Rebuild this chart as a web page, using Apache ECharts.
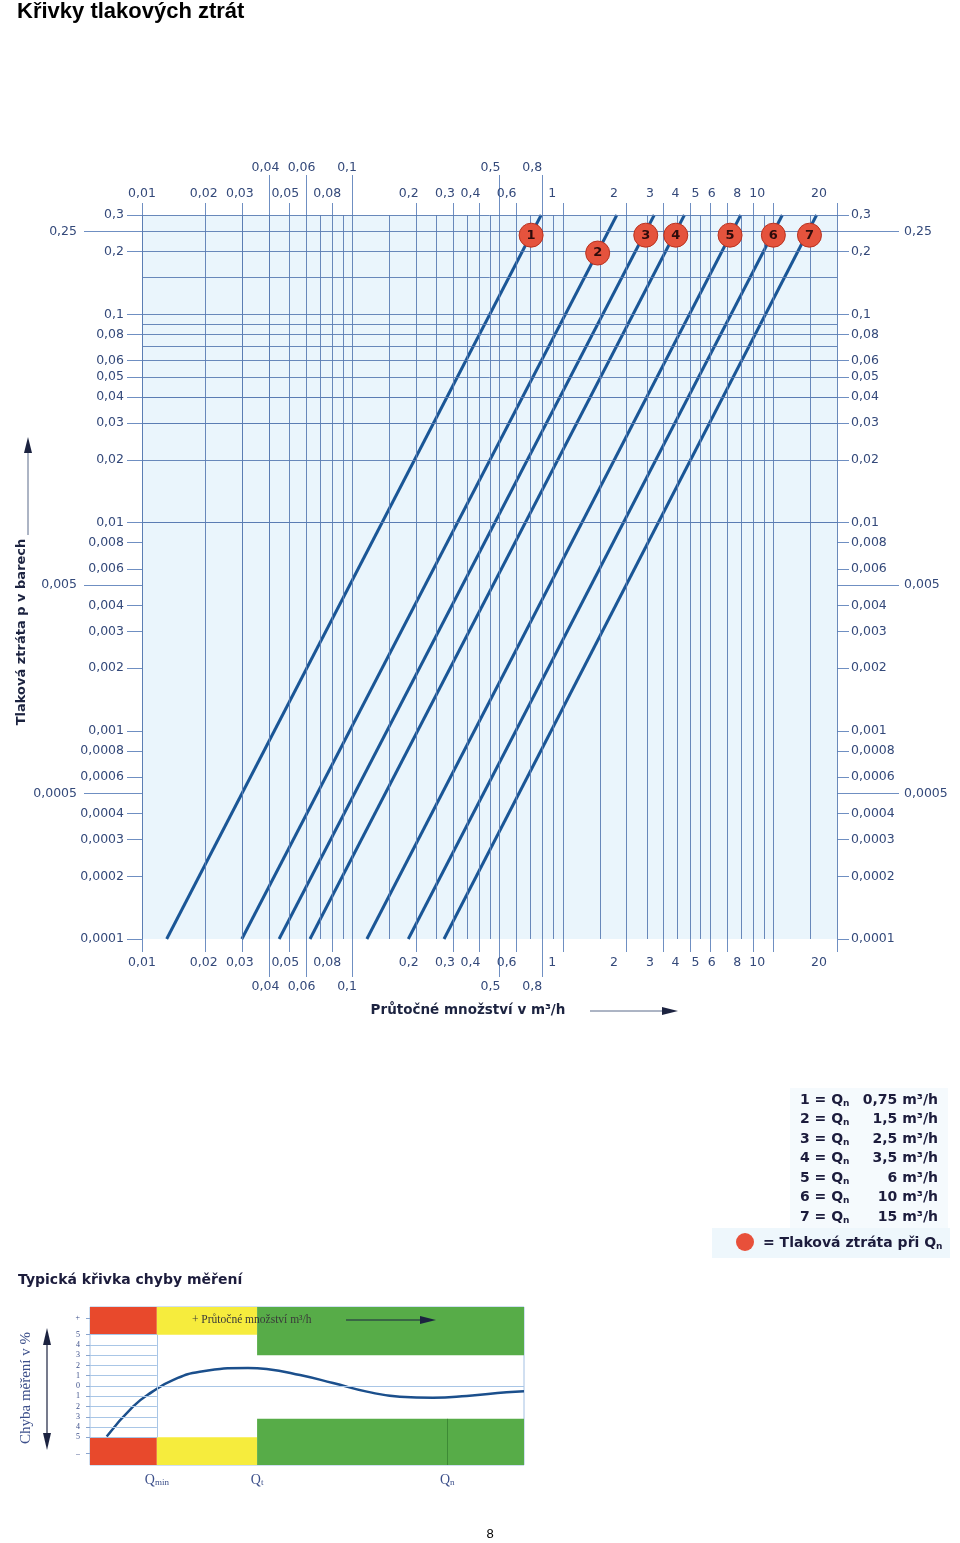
<!DOCTYPE html>
<html>
<head>
<meta charset="utf-8">
<script src="https://cdn.jsdelivr.net/npm/echarts@6/dist/echarts.min.js"></script>
<style>
html,body{margin:0;padding:0;background:#fff}
#main{width:960px;height:1543px}
</style>
</head>
<body>
<div id="main"></div>
<script>
// mřížka hlavního grafu (průtok Q v m3/h, tlaková ztráta p v barech)
var gridQ = [0.01,0.015,0.02,0.025,0.03,0.035,0.04,0.045,0.05,0.06,0.07,0.08,0.09,
             0.1,0.15,0.2,0.25,0.3,0.35,0.4,0.45,0.5,0.6,0.7,0.8,0.9,
             1,1.5,2,2.5,3,3.5,4,4.5,5,6,7,8,9,10,15,20];
var gridP = [0.0001,0.00015,0.0002,0.00025,0.0003,0.00035,0.0004,0.00045,0.0005,0.0006,0.0007,0.0008,0.0009,
             0.001,0.0015,0.002,0.0025,0.003,0.0035,0.004,0.0045,0.005,0.006,0.007,0.008,0.009,
             0.01,0.015,0.02,0.025,0.03,0.035,0.04,0.045,0.05,0.06,0.07,0.08,0.09,
             0.1,0.15,0.2,0.25,0.3];
// popisky os
var qNear = [0.01,0.02,0.03,0.05,0.08,0.2,0.3,0.4,0.6,1,2,3,4,5,6,8,10,20];
var qFar = [0.04,0.06,0.1,0.5,0.8];
var pNear = [0.0001,0.0002,0.0003,0.0004,0.0006,0.0008,0.001,0.002,0.003,0.004,0.006,0.008,
             0.01,0.02,0.03,0.04,0.05,0.06,0.08,0.1,0.2,0.3];
var pFar = [0.0005,0.005,0.25];
// křivky 1-7: průtok při 0,0001 bar a při 0,3 bar
var curveQLow = [0.0131,0.0298,0.0448,0.0628,0.117,0.184,0.272];
var curveQHigh = [0.787,1.80,2.71,3.77,6.98,11.0,16.0];
var pLow = 0.0001, pHigh = 0.3;
// body = tlaková ztráta při Qn
var dotQ = [0.705,1.46,2.47,3.43,6.21,9.97,14.8];
var dotP = [0.24,0.197,0.24,0.24,0.24,0.24,0.24];
var legendQn = ['0,75','1,5','2,5','3,5','6','10','15'];

// typická křivka chyby měření
var errX = [3.85,9.9,14.4,19.1,25.3,36.4,40.7,48.4,56.0,63.8,71.4,79.0,86.8,96.0,100];
var errY = [-4.92,-2.0,-0.55,0.58,1.39,1.75,1.65,1.07,0.29,-0.55,-1.04,-1.14,-0.97,-0.61,-0.5];
var qMinX = 15.4, qTX = 38.5, qNX = 82.3;
var errTicks = [-6.6,-5,-4,-3,-2,-1,0,1,2,3,4,5,6.6];
var errLevels = [-5,-4,-3,-2,-1,1,2,3,4,5];

var myChart = echarts.init(document.getElementById('main'));

var labelColor = '#34497a';
var tickColor = '#6f8fc2';
var labelFont = 'DejaVu Sans';
var boldFont = '"DejaVu Sans", sans-serif';

function fmt(v) {
    return String(+(+v).toPrecision(6)).replace('.', ',');
}

function tickAxis(pos, vals, len, extra) {
    var a = {
        type: 'log', gridIndex: 0, position: pos,
        axisLine: {show: false},
        axisTick: {show: true, customValues: vals, length: len, lineStyle: {color: tickColor}},
        axisLabel: {show: false},
        splitLine: {show: false}
    };
    for (var k in extra) a[k] = extra[k];
    return a;
}
function labelAxis(pos, vals, margin, extra, withTick) {
    var a = {
        type: 'log', gridIndex: 0, position: pos,
        axisLine: {show: false},
        axisTick: {show: false},
        axisLabel: {show: true, customValues: vals, margin: margin, formatter: fmt,
            color: labelColor, fontFamily: labelFont, fontSize: 12.5},
        splitLine: {show: false}
    };
    if (withTick) a.axisTick = {show: true, customValues: vals, length: withTick, lineStyle: {color: tickColor}};
    for (var k in extra) a[k] = extra[k];
    return a;
}

var qRange = {min: 0.01, max: 20};
var qLabelRange = {min: 0.01, max: 24.5};
var pRange = {min: 0.0001, max: 0.3};

var xAxes = [
    tickAxis('bottom', qNear, 13, qRange),
    tickAxis('bottom', qFar, 38, qRange),
    tickAxis('top', qNear, 12, qRange),
    tickAxis('top', qFar, 40, qRange),
    labelAxis('bottom', qNear, 17, qLabelRange),
    labelAxis('bottom', qFar, 41, qLabelRange),
    labelAxis('top', qNear, 15, qLabelRange),
    labelAxis('top', qFar, 41, qLabelRange),
    {
        type: 'value', gridIndex: 1, min: 0, max: 100,
        axisLine: {show: false}, axisTick: {show: false}, splitLine: {show: false},
        axisLabel: {
            customValues: [qMinX, qTX, qNX], margin: 8,
            formatter: function (v) {
                if (v < 20) return '{q|Q}{s|min}';
                if (v < 50) return '{q|Q}{s|t}';
                return '{q|Q}{s|n}';
            },
            rich: {
                q: {fontFamily: 'Liberation Serif', fontSize: 14, color: '#3c4f8a'},
                s: {fontFamily: 'Liberation Serif', fontSize: 9, color: '#3c4f8a', verticalAlign: 'bottom', lineHeight: 10}
            }
        }
    }
];

var yAxes = [
    labelAxis('left', pNear, 18, pRange, 15),
    labelAxis('left', pFar, 65, pRange, 58),
    labelAxis('right', pNear, 14, pRange, 12),
    labelAxis('right', pFar, 67, pRange, 62),
    {
        type: 'value', gridIndex: 1, min: -7.7, max: 7.7,
        axisLine: {show: false}, splitLine: {show: false},
        axisTick: {show: true, customValues: errTicks, length: 4, lineStyle: {color: '#8aa6cf'}},
        axisLabel: {
            customValues: errTicks, margin: 10,
            fontFamily: 'Liberation Serif', fontSize: 8, color: '#3c4f8a',
            formatter: function (v) {
                if (v > 6) return '+';
                if (v < -6) return '\u2013';
                return String(Math.abs(v));
            }
        }
    }
];

var series = [];

// mřížka jako markLine přes log osy
series.push({
    type: 'line', xAxisIndex: 0, yAxisIndex: 0, data: [], silent: true, z: 1,
    markLine: {
        silent: true, symbol: ['none', 'none'], label: {show: false}, animation: false,
        lineStyle: {color: '#5a7cb3', width: 1, type: 'solid', opacity: 0.9},
        emphasis: {disabled: true},
        data: gridQ.map(function (q) { return {xAxis: q}; })
            .concat(gridP.map(function (p) { return {yAxis: p}; }))
    }
});

for (var i = 0; i < curveQLow.length; i++) {
    series.push({
        name: 'k' + (i + 1), type: 'line', xAxisIndex: 0, yAxisIndex: 0, z: 3,
        symbol: 'none', silent: true,
        lineStyle: {color: '#1a5696', width: 3},
        data: [[curveQLow[i], pLow], [curveQHigh[i], pHigh]]
    });
}

series.push({
    type: 'scatter', xAxisIndex: 0, yAxisIndex: 0, z: 5, symbolSize: 24,
    itemStyle: {color: '#e5533d', borderColor: '#b9321f', borderWidth: 1, opacity: 1},
    label: {
        show: true, position: 'inside', color: '#2e0c0c', fontWeight: 'bold',
        fontSize: 13, fontFamily: 'DejaVu Sans',
        formatter: function (p) { return String(p.dataIndex + 1); }
    },
    data: dotQ.map(function (q, k) { return [q, dotP[k]]; })
});

// spodní graf: pásma chyb
var red = '#e8492c', yellow = '#f6ec3d', green = '#57ac48';
series.push({
    type: 'line', xAxisIndex: 8, yAxisIndex: 4, data: [], silent: true, z: 1,
    markArea: {
        silent: true, animation: false,
        data: [
            [{coord: [0, 5], itemStyle: {color: red}}, {coord: [qMinX, 7.7]}],
            [{coord: [qMinX, 5], itemStyle: {color: yellow}}, {coord: [qTX, 7.7]}],
            [{coord: [qTX, 3], itemStyle: {color: green}}, {coord: [100, 7.7]}],
            [{coord: [0, -7.7], itemStyle: {color: red}}, {coord: [qMinX, -5]}],
            [{coord: [qMinX, -7.7], itemStyle: {color: yellow}}, {coord: [qTX, -5]}],
            [{coord: [qTX, -7.7], itemStyle: {color: green}}, {coord: [100, -3.2]}]
        ]
    },
    markLine: {
        silent: true, symbol: ['none', 'none'], label: {show: false}, animation: false,
        lineStyle: {color: '#a9c6e6', width: 1, type: 'solid'},
        data: errLevels.map(function (v) { return [{coord: [0, v]}, {coord: [qMinX, v]}]; })
            .concat([
                [{coord: [0, 0]}, {coord: [100, 0]}],
                [{coord: [qMinX, 5]}, {coord: [qMinX, -5]}],
                [{coord: [qNX, -3.2], lineStyle: {color: '#3d8a35'}}, {coord: [qNX, -7.7]}]
            ])
    }
});
series.push({
    type: 'line', xAxisIndex: 8, yAxisIndex: 4, z: 4, smooth: 0.5, symbol: 'none', silent: true,
    lineStyle: {color: '#1b4f8c', width: 2.5},
    data: errX.map(function (x, k) { return [x, errY[k]]; })
});

// texty
var subRich = function (size) {
    return {
        a: {fill: '#1c1c3c', font: 'bold ' + size + 'px ' + boldFont, lineHeight: 16},
        s: {fill: '#1c1c3c', font: 'bold 9px ' + boldFont, verticalAlign: 'bottom', lineHeight: 10}
    };
};
var graphics = [
    {type: 'text', left: 17, top: 1, style: {text: 'Křivky tlakových ztrát', fill: '#000',
        font: 'bold 22px "Liberation Sans", sans-serif'}},
    {type: 'text', x: 22, y: 632, rotation: Math.PI / 2, style: {text: 'Tlaková ztráta p v barech',
        fill: '#1c2340', align: 'center', verticalAlign: 'middle', font: 'bold 13px ' + boldFont}},
    {type: 'line', shape: {x1: 28, y1: 535, x2: 28, y2: 450}, style: {stroke: '#5a6a8a', lineWidth: 1}},
    {type: 'polygon', shape: {points: [[28, 437], [24, 453], [32, 453]]}, style: {fill: '#1c2340'}},
    {type: 'text', x: 468, y: 1010, style: {text: 'Průtočné množství v m³/h', fill: '#1c2340',
        align: 'center', verticalAlign: 'middle', font: 'bold 13.5px ' + boldFont}},
    {type: 'line', shape: {x1: 590, y1: 1011, x2: 664, y2: 1011}, style: {stroke: '#5a6a8a', lineWidth: 1}},
    {type: 'polygon', shape: {points: [[678, 1011], [662, 1007], [662, 1015]]}, style: {fill: '#1c2340'}},
    {type: 'rect', shape: {x: 790, y: 1088, width: 158, height: 140}, style: {fill: '#f5fafd'}},
    {type: 'rect', shape: {x: 712, y: 1228, width: 238, height: 30}, style: {fill: '#eef7fc'}},
    {type: 'circle', shape: {cx: 745, cy: 1242, r: 9}, style: {fill: '#e8503a'}},
    {type: 'text', x: 763, y: 1243, style: {text: '{a|= Tlaková ztráta při Q}{s|n}', verticalAlign: 'middle',
        rich: subRich(14)}},
    {type: 'text', left: 18, top: 1273, style: {text: 'Typická křivka chyby měření', fill: '#1c1c3c',
        font: 'bold 14px ' + boldFont}},
    {type: 'text', x: 26, y: 1388, rotation: Math.PI / 2, style: {text: 'Chyba měření v %',
        fill: '#3c4f8a', align: 'center', verticalAlign: 'middle', font: '15px "Liberation Serif", serif'}},
    {type: 'line', shape: {x1: 47, y1: 1343, x2: 47, y2: 1435}, style: {stroke: '#1c2340', lineWidth: 1.2}},
    {type: 'polygon', shape: {points: [[47, 1328], [43, 1345], [51, 1345]]}, style: {fill: '#1c2340'}},
    {type: 'polygon', shape: {points: [[47, 1450], [43, 1433], [51, 1433]]}, style: {fill: '#1c2340'}},
    {type: 'text', x: 192, y: 1320, z: 10, style: {text: '+ Průtočné množství m³/h', fill: '#3a3a3a',
        verticalAlign: 'middle', font: '11.5px "Liberation Serif", serif'}},
    {type: 'line', z: 10, shape: {x1: 346, y1: 1320, x2: 422, y2: 1320}, style: {stroke: '#1c2340', lineWidth: 1}},
    {type: 'polygon', z: 10, shape: {points: [[436, 1320], [420, 1316], [420, 1324]]}, style: {fill: '#1c2340'}},
    {type: 'text', x: 490, y: 1534, style: {text: '8', fill: '#000', align: 'center', verticalAlign: 'middle',
        font: '13px "Liberation Sans", sans-serif'}}
];
for (var r = 0; r < legendQn.length; r++) {
    var ly = 1100 + r * 19.5;
    graphics.push({type: 'text', x: 800, y: ly, style: {text: '{a|' + (r + 1) + ' = Q}{s|n}', verticalAlign: 'middle',
        rich: subRich(14)}});
    graphics.push({type: 'text', x: 938, y: ly, style: {text: legendQn[r] + ' m³/h', align: 'right',
        verticalAlign: 'middle', fill: '#1c1c3c', font: 'bold 14px ' + boldFont}});
}

var option = {
    animation: false,
    backgroundColor: '#fff',
    grid: [
        {left: 142, top: 215, width: 695, height: 724, show: true, backgroundColor: '#eaf5fc', borderWidth: 0},
        {left: 90, top: 1307, width: 434, height: 158, show: true, backgroundColor: '#fff',
            borderColor: '#a3c0e3', borderWidth: 1}
    ],
    xAxis: xAxes,
    yAxis: yAxes,
    series: series,
    graphic: graphics
};

if (option && typeof option === "object") {
    myChart.setOption(option, true);
}
</script>
</body>
</html>
